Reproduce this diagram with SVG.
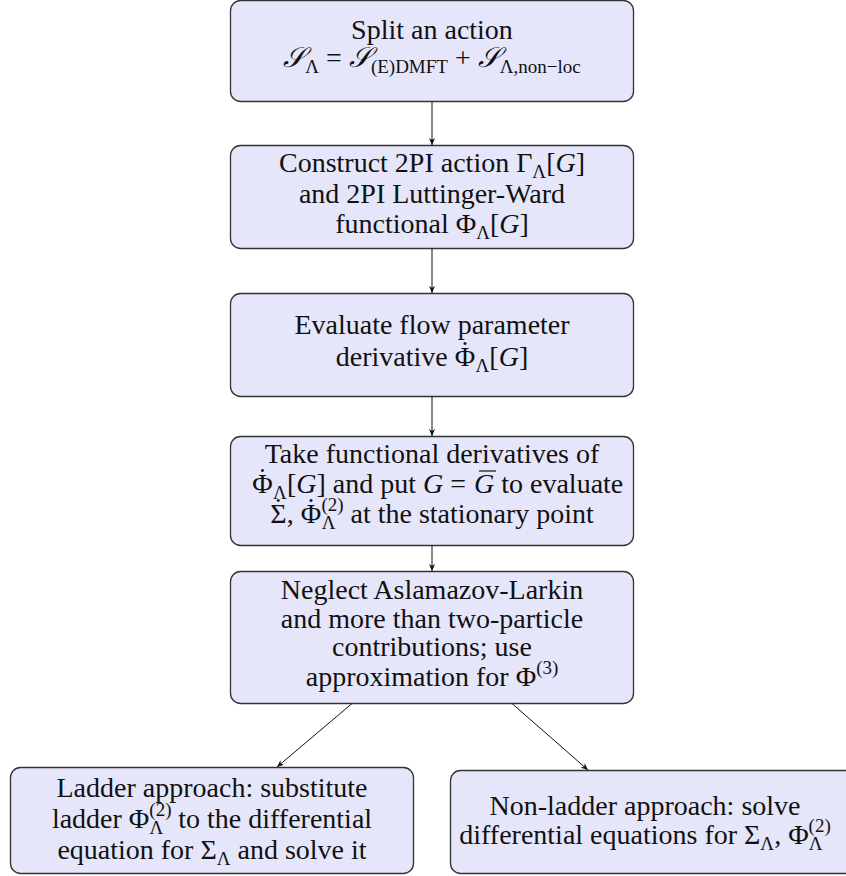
<svg xmlns="http://www.w3.org/2000/svg" width="846" height="876" viewBox="0 0 846 876">
<style>
.box{fill:#e6e6fb;stroke:#333;stroke-width:1.3}
.t{font-size:28px;fill:#111;text-anchor:middle}
.e{text-anchor:end}
.st{text-anchor:start}
.s{font-size:19px}
.i{font-style:italic}
.c{stroke:#111;stroke-width:1;fill:none}
.ov{stroke:#111;stroke-width:1.2}
</style>
<defs>
<marker id="ah" markerWidth="8" markerHeight="6" refX="7" refY="3" orient="auto" markerUnits="userSpaceOnUse">
<path d="M0,0 L7,3 L0,6 L2,3 Z" fill="#111"/>
</marker>
</defs>
<rect width="846" height="876" fill="#fff"/>
<g font-family="'Liberation Serif', 'Times New Roman', 'DejaVu Serif', serif">
<g id="n1">
<rect class="box" x="230.5" y="0.5" width="403" height="101" rx="10"/>
<text class="t" x="432" y="39">Split an action</text>
<text class="t" x="432" y="67"><tspan class="i">𝒮</tspan><tspan class="s" dy="6">Λ</tspan><tspan dy="-6"> = </tspan><tspan class="i">𝒮</tspan><tspan class="s" dy="6">(E)DMFT</tspan><tspan dy="-6"> + </tspan><tspan class="i">𝒮</tspan><tspan class="s" dy="6">Λ,non−loc</tspan></text>
</g>
<g id="n2">
<rect class="box" x="230.5" y="145.5" width="403" height="103" rx="10"/>
<text class="t" x="432" y="172">Construct 2PI action Γ<tspan class="s" dy="6">Λ</tspan><tspan dy="-6">[</tspan><tspan class="i">G</tspan>]</text>
<text class="t" x="432" y="203">and 2PI Luttinger-Ward</text>
<text class="t" x="432" y="233">functional Φ<tspan class="s" dy="6">Λ</tspan><tspan dy="-6">[</tspan><tspan class="i">G</tspan>]</text>
</g>
<g id="n3">
<rect class="box" x="230.5" y="293.5" width="403" height="103" rx="10"/>
<text class="t" x="432" y="334">Evaluate flow parameter</text>
<text class="t" x="432" y="366">derivative Φ<tspan dx="-15" dy="-6">˙</tspan><tspan class="s" dx="6" dy="12">Λ</tspan><tspan dy="-6">[</tspan><tspan class="i">G</tspan>]</text>
</g>
<g id="n4">
<rect class="box" x="230.5" y="436.5" width="403" height="109" rx="10"/>
<text class="t" x="432" y="463">Take functional derivatives of</text>
<text class="t e" x="466" y="493">Φ<tspan dx="-15" dy="-6">˙</tspan><tspan class="s" dx="6" dy="12">Λ</tspan><tspan dy="-6">[</tspan><tspan class="i">G</tspan>] and put <tspan class="i">G</tspan> =</text>
<text class="t st" x="474" y="493"><tspan class="i">G</tspan> to evaluate</text>
<line class="ov" x1="479" y1="471" x2="496" y2="471"/>
<text class="t" x="432" y="523">Σ<tspan dx="-13" dy="-6">˙</tspan><tspan dx="4" dy="6">, Φ</tspan><tspan dx="-15" dy="-6">˙</tspan><tspan class="s" dx="6" dy="-6">(2)</tspan><tspan class="s" dx="-22" dy="18">Λ</tspan><tspan dx="8" dy="-6"> at the stationary point</tspan></text>
</g>
<g id="n5">
<rect class="box" x="230.5" y="571.5" width="403" height="132" rx="10"/>
<text class="t" x="432" y="599">Neglect Aslamazov-Larkin</text>
<text class="t" x="432" y="628">and more than two-particle</text>
<text class="t" x="432" y="656">contributions; use</text>
<text class="t" x="432" y="686">approximation for Φ<tspan class="s" dy="-12">(3)</tspan></text>
</g>
<g id="n6">
<rect class="box" x="10.5" y="767.5" width="403" height="106" rx="10"/>
<text class="t" x="212" y="797">Ladder approach: substitute</text>
<text class="t" x="212" y="828">ladder Φ<tspan class="s" dy="-12">(2)</tspan><tspan class="s" dx="-22" dy="18">Λ</tspan><tspan dx="8" dy="-6"> to the differential</tspan></text>
<text class="t" x="212" y="859">equation for Σ<tspan class="s" dy="6">Λ</tspan><tspan dy="-6"> and solve it</tspan></text>
</g>
<g id="n7">
<rect class="box" x="450.5" y="770.5" width="406" height="103" rx="10"/>
<text class="t" x="645" y="815">Non-ladder approach: solve</text>
<text class="t" x="645" y="844">differential equations for Σ<tspan class="s" dy="6">Λ</tspan><tspan dy="-6">, Φ</tspan><tspan class="s" dy="-12">(2)</tspan><tspan class="s" dx="-22" dy="18">Λ</tspan></text>
</g>
</g>
<g id="connectors">
<line class="c" x1="432" y1="101.5" x2="432" y2="145" marker-end="url(#ah)"/>
<line class="c" x1="432" y1="248.5" x2="432" y2="293" marker-end="url(#ah)"/>
<line class="c" x1="432" y1="396.5" x2="432" y2="436" marker-end="url(#ah)"/>
<line class="c" x1="432" y1="545.5" x2="432" y2="571" marker-end="url(#ah)"/>
<line class="c" x1="352" y1="703.5" x2="277" y2="767" marker-end="url(#ah)"/>
<line class="c" x1="512" y1="703.5" x2="588" y2="770" marker-end="url(#ah)"/>
</g>
</svg>
